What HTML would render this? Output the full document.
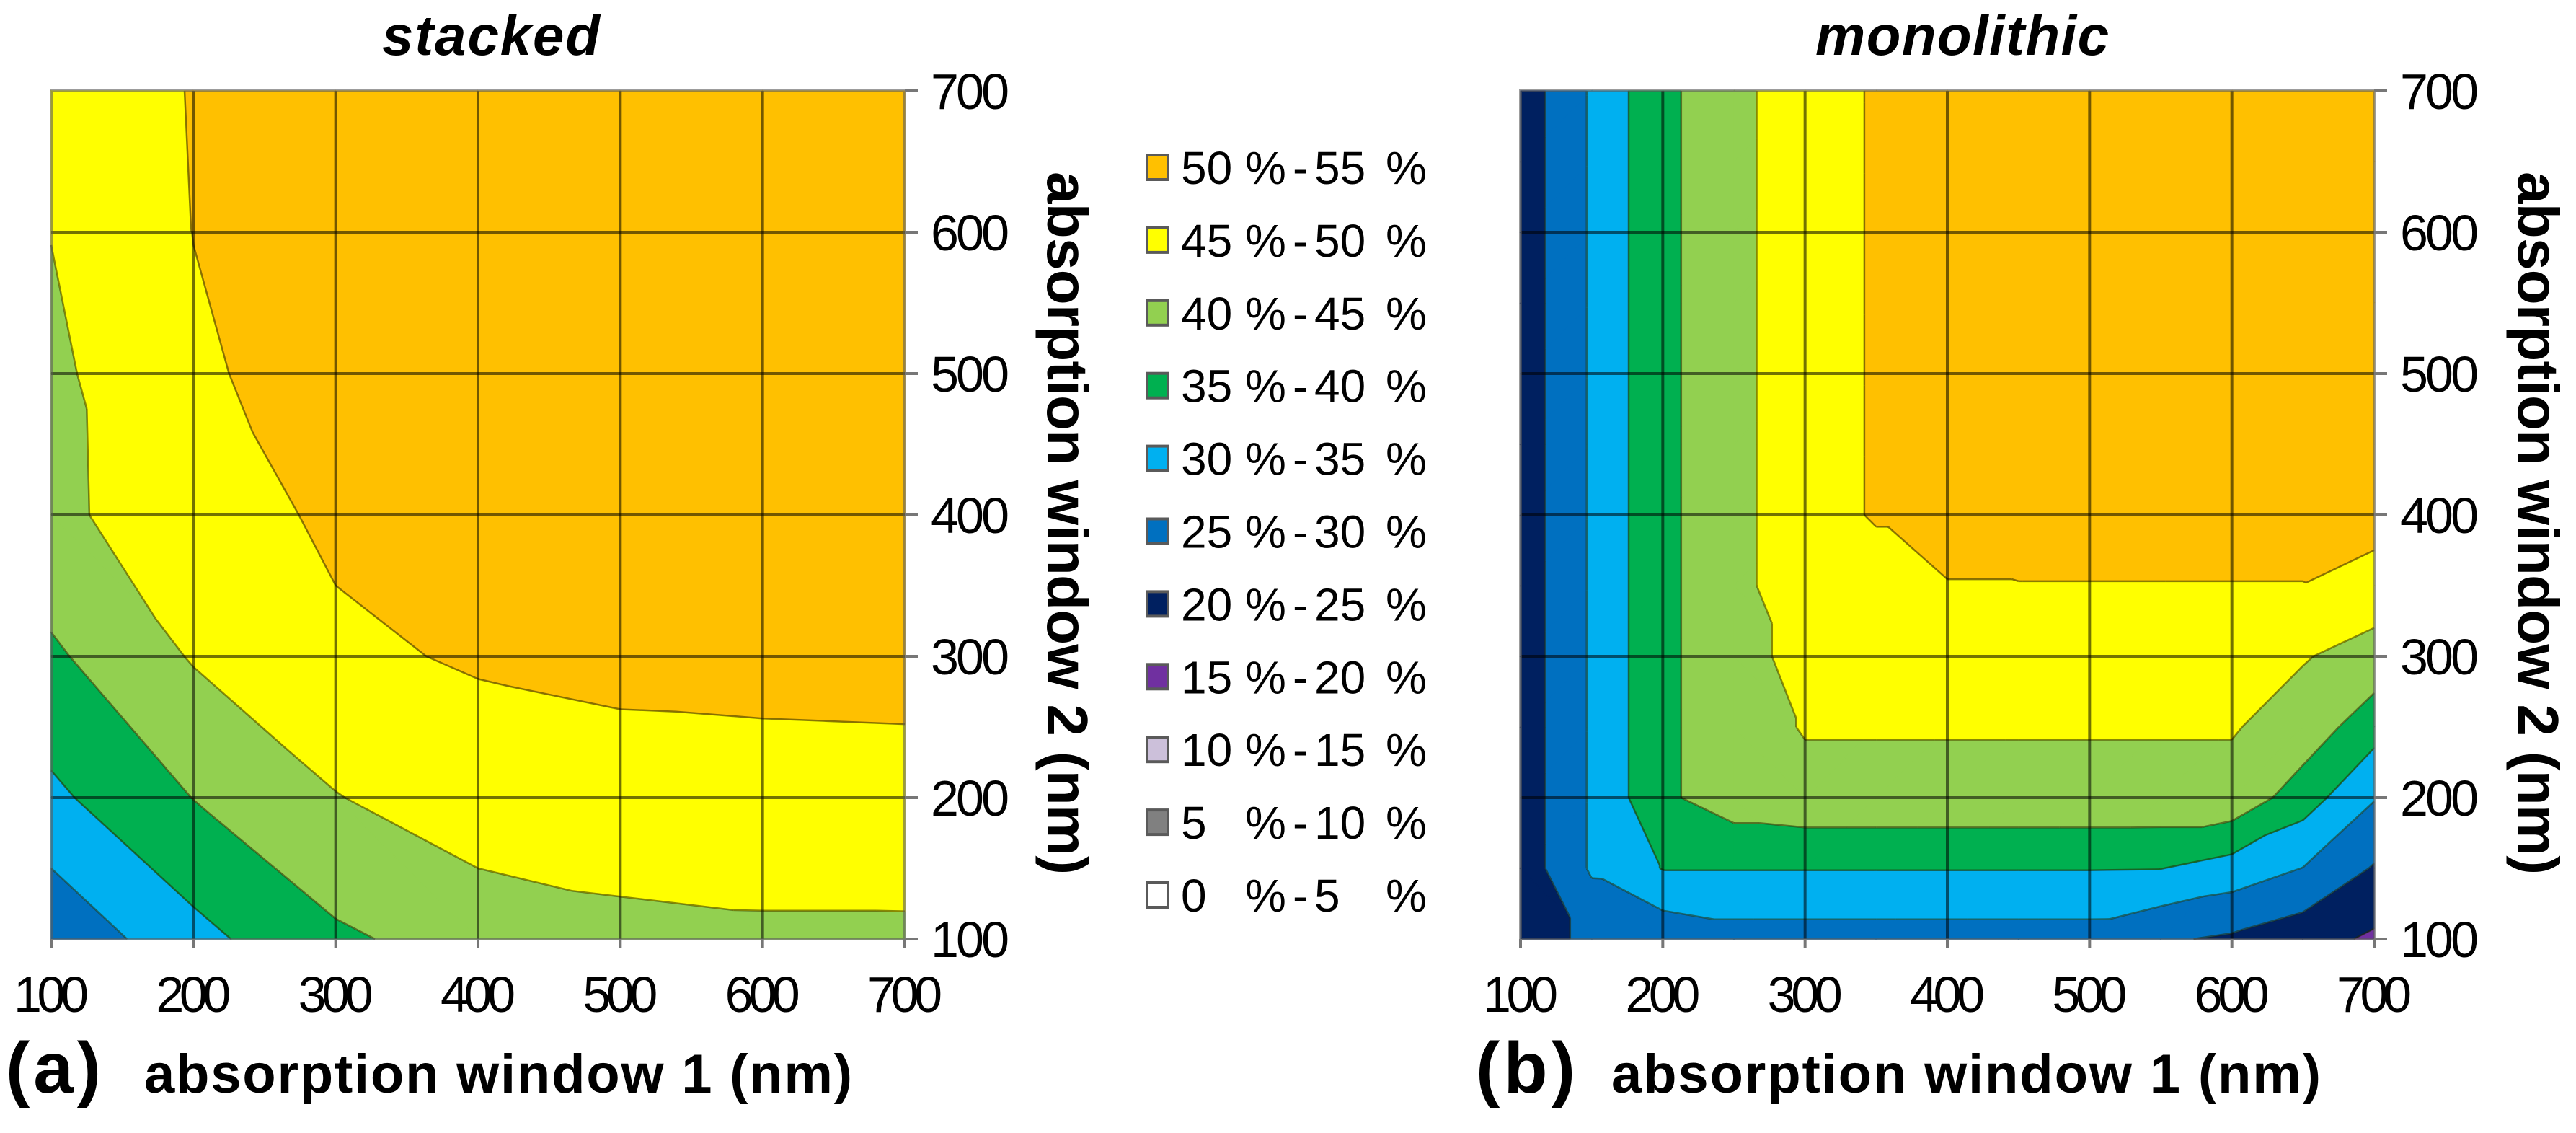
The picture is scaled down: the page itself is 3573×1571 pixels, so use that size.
<!DOCTYPE html>
<html><head><meta charset="utf-8"><style>
html,body{margin:0;padding:0;background:#fff;}
svg{display:block;}
text{font-family:"Liberation Sans",Arial,sans-serif;fill:#000;}
</style></head><body>
<svg id="fig" xmlns="http://www.w3.org/2000/svg" width="3573" height="1571" viewBox="0 0 3573 1571">
<g id="panelA"></g>
<g id="panelB"></g>
<g id="legend"></g>
<text x="530" y="76" font-size="78" font-weight="bold" font-style="italic" textLength="302">stacked</text>
<text x="2518" y="76" font-size="78" font-weight="bold" font-style="italic" textLength="407">monolithic</text>
<text x="8" y="1515" font-size="100" font-weight="bold" textLength="132">(a)</text>
<text x="200" y="1515" font-size="76" font-weight="bold" textLength="982">absorption window 1 (nm)</text>
<text x="2047" y="1515" font-size="100" font-weight="bold" textLength="138">(b)</text>
<text x="2235" y="1515" font-size="76" font-weight="bold" textLength="984">absorption window 1 (nm)</text>
<text transform="translate(1453,238) rotate(90)" font-size="80" font-weight="bold" textLength="975">absorption window 2 (nm)</text>
<text transform="translate(3493,238) rotate(90)" font-size="80" font-weight="bold" textLength="975">absorption window 2 (nm)</text>
</svg>
<script>
const ticks=[100,200,300,400,500,600,700];
const levels=[0,5,10,15,20,25,30,35,40,45,50,55];
const bandColors=["#FFFFFF","#808080","#CCC0DA","#7030A0","#002060","#0070C0","#00B0F0","#00B050","#92D050","#FFFF00","#FFC000"];
const legendLo=["50","45","40","35","30","25","20","15","10","5","0"];
const legendHi=["55","50","45","40","35","30","25","20","15","10","5"];
const legendColors=["#FFC000","#FFFF00","#92D050","#00B050","#00B0F0","#0070C0","#002060","#7030A0","#CCC0DA","#808080","#FFFFFF"];

const aX=[100,200,300,400,500,600,700];
const aY=[100,200,300,400,500,600,700];
const aZ=[
[26,33.5,39.2,42.1,43.5,44.1,44.1],
[34.0,40.1,44.8,47.9,48.5,48.6,48.7],
[39.2,45.4,49.3,50.4,50.9,51.1,51.2],
[43.9,48.0,50.7,52,52.5,52.8,52.9],
[44.0,49.5,51.5,52.5,53,53.3,53.4],
[45.1,50.05,51.8,52.8,53.3,53.7,53.8],
[47.0,50.2,52,53,53.5,54,54]
];
const bX=[100,150,200,250,300,350,400,450,500,550,600,650,700];
const bY=[100,150,200,250,300,350,400,450,500,550,600,650,700];
const bZ=[
[22,26.3,26.5,28,28,28,28,28,28,25.6,24.3,22,19.2],
[22,30.6,35.2,35.2,35.2,35.2,35.2,35.2,35.2,35.1,32.9,29.9,24.6],
[22,30.6,39.06,42.7,43.5,43.5,43.5,43.5,43.5,43.5,43.5,37.4,30.3],
[22,30.6,39.06,42.7,45.33,45.33,45.33,45.33,45.33,45.33,45.33,43.05,37.0],
[22,30.6,39.06,42.7,47,47,47,47,47,47,47,45.3,43.25],
[22,30.6,39.06,42.7,49.9,49.9,49.9,49.9,49.9,49.9,49.9,49.9,47.6],
[22,30.6,39.06,42.7,49.9,50.02,51,51.5,51.5,51.5,51.5,51.5,52.4],
[22,30.6,39.06,42.7,49.9,50.02,51,52,52,52,52,52,52],
[22,30.6,39.06,42.7,49.9,50.02,51,52,52.5,52.5,52.5,52.5,52.5],
[22,30.6,39.06,42.7,49.9,50.02,51,52,52.5,53,53,53,53],
[22,30.6,39.06,42.7,49.9,50.02,51,52,52.5,53,53,53,53],
[22,30.6,39.06,42.7,49.9,50.02,51,52,52.5,53,53,53,53],
[22,30.6,39.06,42.7,49.9,50.02,51,52,52.5,53,53,53,53]
];

const NS="http://www.w3.org/2000/svg";
function mk(tag,attrs,parent){const e=document.createElementNS(NS,tag);for(const k in attrs)e.setAttribute(k,attrs[k]);parent.appendChild(e);return e;}

function clip(poly,lev,keepAbove){
  const out=[];
  for(let i=0;i<poly.length;i++){
    const a=poly[i],b=poly[(i+1)%poly.length];
    const ina=keepAbove?a[2]>=lev:a[2]<=lev;
    const inb=keepAbove?b[2]>=lev:b[2]<=lev;
    if(ina)out.push(a);
    if(ina!==inb){const t=(lev-a[2])/(b[2]-a[2]);out.push([a[0]+t*(b[0]-a[0]),a[1]+t*(b[1]-a[1]),lev]);}
  }
  return out;
}

function drawPanel(g,X,Y,Z,left,right,top,bottom,name){
  const sx=v=>left+(v-100)/600*(right-left);
  const sy=v=>bottom-(v-100)/600*(bottom-top);
  const fills=mk('g',{},g);
  
  
  const lines=mk('g',{stroke:'rgba(40,40,0,0.55)','stroke-width':'2.5',fill:'none'},g);
  
  
  for(let j=0;j<Y.length-1;j++){
    for(let i=0;i<X.length-1;i++){
      const p00=[sx(X[i]),sy(Y[j]),Z[j][i]],p10=[sx(X[i+1]),sy(Y[j]),Z[j][i+1]];
      const p01=[sx(X[i]),sy(Y[j+1]),Z[j+1][i]],p11=[sx(X[i+1]),sy(Y[j+1]),Z[j+1][i+1]];
      let tris;
      if(Math.abs(p00[2]-p11[2])<=Math.abs(p01[2]-p10[2])) tris=[[p00,p10,p11],[p00,p11,p01]];
      else tris=[[p00,p10,p01],[p10,p11,p01]];
      for(const tri of tris){
        for(let b=0;b<bandColors.length;b++){
          let poly=clip(tri,levels[b],true);
          if(poly.length<3)continue;
          poly=clip(poly,levels[b+1],false);
          if(poly.length<3)continue;
          const el=mk('polygon',{points:poly.map(p=>p[0].toFixed(1)+','+p[1].toFixed(1)).join(' '),fill:bandColors[b],stroke:bandColors[b],'stroke-width':'1.2'},fills);
          
          
        }
        for(let l=1;l<levels.length-1;l++){
          const L=levels[l];const pts=[];
          for(let e=0;e<3;e++){const a=tri[e],c=tri[(e+1)%3];
            if((a[2]-L)*(c[2]-L)<0){const t=(L-a[2])/(c[2]-a[2]);pts.push([a[0]+t*(c[0]-a[0]),a[1]+t*(c[1]-a[1])]);}}
          if(pts.length===2){
            const ln=mk('line',{x1:pts[0][0],y1:pts[0][1],x2:pts[1][0],y2:pts[1][1]},lines);
            
            
          }
        }
      }
    }
  }
  const grid=mk('g',{stroke:'rgba(0,0,0,0.55)','stroke-width':'4'},g);
  
  
  for(const t of ticks){
    if(t>100&&t<700){
      mk('line',{x1:sx(t),y1:top,x2:sx(t),y2:bottom},grid);
      mk('line',{x1:left,y1:sy(t),x2:right,y2:sy(t)},grid);
    }
  }
  const border=mk('rect',{x:left,y:top,width:right-left,height:bottom-top,fill:'none',stroke:'rgba(90,90,90,0.6)','stroke-width':'4'},g);
  
  
  const axes=mk('g',{stroke:'#777','stroke-width':'4'},g);
  
  
  for(const t of ticks){
    mk('line',{x1:right,y1:sy(t),x2:right+18,y2:sy(t)},axes);
    mk('line',{x1:sx(t),y1:bottom,x2:sx(t),y2:bottom+12},axes);
    const xt=mk('text',{x:sx(t),y:1403,'font-size':'70','text-anchor':'middle',textLength:'104'},g);
    xt.textContent=t;
    
    
    const yt=mk('text',{x:right+36,y:sy(t)+25,'font-size':'70',textLength:'109'},g);
    yt.textContent=t;
    
    
  }
}
drawPanel(document.getElementById('panelA'),aX,aY,aZ,71,1255,126,1302,'stacked');
drawPanel(document.getElementById('panelB'),bX,bY,bZ,2109,3293,126,1302,'monolithic');

const lg=document.getElementById('legend');
for(let k=0;k<legendLo.length;k++){
  const cy=232+k*100.9;
  const sw=mk('rect',{x:1591,y:cy-17,width:29,height:34,fill:legendColors[k],stroke:'#5a5a5a','stroke-width':'4'},lg);
  
  
  const parts=[[1638,legendLo[k]],[1727,'%'],[1793,'-'],[1823,legendHi[k]],[1922,'%']];
  for(const [x,s] of parts){
    const t=mk('text',{x:x,y:cy+23,'font-size':'64'},lg);
    t.textContent=s;
    
    
  }
}
</script>
</body></html>
